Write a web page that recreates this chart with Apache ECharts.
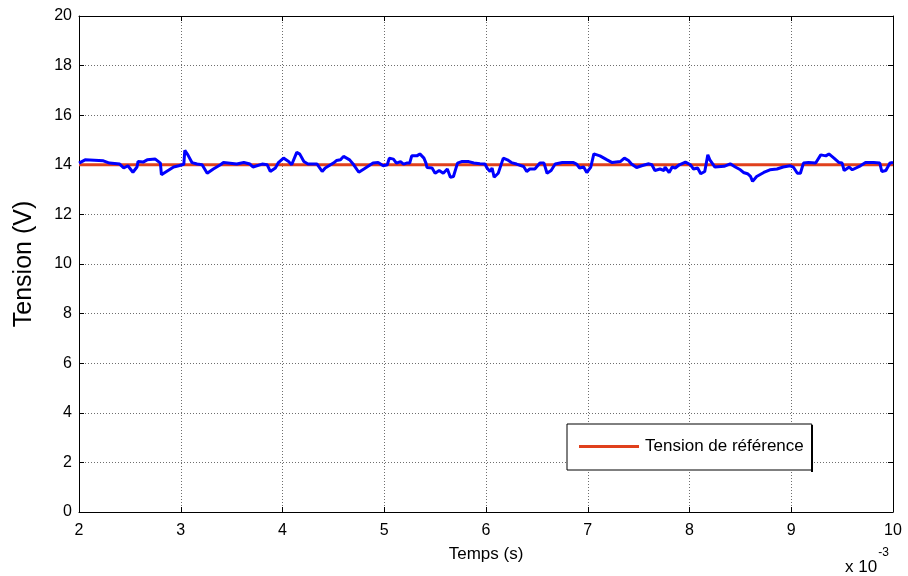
<!DOCTYPE html>
<html><head><meta charset="utf-8">
<script src="https://cdn.jsdelivr.net/npm/echarts@6/dist/echarts.min.js"></script>
<style>html,body{margin:0;padding:0;background:#fff}#c{width:908px;height:576px}</style>
</head><body><div id="c"></div>
<script>
// time in units of 1e-3 s
const tBlue = [2.0,2.06,2.24,2.30,2.40,2.44,2.48,2.53,2.57,2.58,2.63,2.67,2.75,2.80,2.81,2.86,2.93,2.98,3.03,3.04,3.07,3.11,3.16,3.21,3.26,3.32,3.39,3.42,3.55,3.62,3.68,3.71,3.80,3.85,3.88,3.93,3.96,4.01,4.06,4.09,4.14,4.17,4.21,4.25,4.34,4.39,4.42,4.50,4.53,4.57,4.60,4.66,4.70,4.75,4.80,4.89,4.94,4.99,5.03,5.05,5.09,5.12,5.16,5.19,5.22,5.25,5.27,5.32,5.35,5.39,5.41,5.42,5.47,5.50,5.54,5.58,5.62,5.65,5.68,5.72,5.76,5.83,5.88,5.94,5.99,6.01,6.04,6.06,6.08,6.12,6.17,6.21,6.25,6.30,6.37,6.40,6.43,6.48,6.53,6.57,6.60,6.64,6.68,6.75,6.86,6.89,6.92,6.96,6.99,7.03,7.06,7.12,7.19,7.24,7.32,7.36,7.40,7.43,7.48,7.53,7.60,7.63,7.66,7.71,7.75,7.76,7.80,7.83,7.86,7.90,7.96,8.01,8.04,8.08,8.11,8.15,8.18,8.20,8.25,8.34,8.40,8.45,8.50,8.53,8.57,8.60,8.62,8.66,8.73,8.79,8.86,8.92,8.99,9.02,9.06,9.09,9.12,9.17,9.24,9.29,9.34,9.37,9.42,9.47,9.50,9.52,9.57,9.60,9.68,9.73,9.81,9.87,9.89,9.93,9.97,10.0];
const vBlue = [14.07,14.20,14.16,14.07,14.03,13.87,13.96,13.70,13.91,14.13,14.11,14.20,14.23,14.07,13.60,13.73,13.91,13.96,14.02,14.58,14.40,14.09,14.03,14.00,13.66,13.83,14.00,14.09,14.03,14.09,14.03,13.91,14.03,14.00,13.73,13.87,14.09,14.27,14.13,14.00,14.50,14.43,14.13,14.03,14.03,13.73,13.87,14.07,14.17,14.20,14.34,14.20,14.00,13.70,13.83,14.07,14.09,13.96,14.00,14.27,14.23,14.07,14.13,14.03,14.07,14.07,14.36,14.36,14.44,14.27,14.07,13.89,13.87,13.66,13.77,13.66,13.83,13.50,13.53,14.07,14.13,14.13,14.07,14.04,14.03,13.87,13.73,13.87,13.50,13.66,14.27,14.20,14.09,14.03,13.93,13.73,13.83,13.83,14.07,14.07,13.66,13.77,14.03,14.09,14.09,14.03,13.87,13.91,13.69,13.91,14.44,14.36,14.20,14.09,14.13,14.27,14.17,14.03,13.89,13.96,14.04,14.00,13.77,13.83,13.77,13.91,13.69,13.91,13.87,14.00,14.11,14.00,13.83,13.87,13.64,13.73,14.40,14.20,13.91,13.94,14.04,13.91,13.80,13.69,13.64,13.53,13.33,13.53,13.69,13.80,13.83,13.91,13.96,13.91,13.66,13.66,14.07,14.09,14.07,14.40,14.36,14.44,14.27,14.09,14.07,13.77,13.91,13.80,13.96,14.09,14.09,14.07,13.73,13.77,14.07,14.09];
const tRef = [2, 10];
const vRef = [14, 14];
const xTicks = [2,3,4,5,6,7,8,9,10];
const yTicks = [0,2,4,6,8,10,12,14,16,18,20];

const chart = echarts.init(document.getElementById('c'), null, {renderer:'canvas'});
const font = 'Liberation Sans, Arial, sans-serif';
const gridLine = {show:true, lineStyle:{color:'#6e6e6e', type:[1,2], width:1}};
const axLine = {show:true, onZero:false, lineStyle:{color:'#000', width:1}};
const tick = {show:true, inside:true, length:5, lineStyle:{color:'#000'}};
chart.setOption({
  animation:false,
  backgroundColor:'#fff',
  grid:{left:79, right:15, top:16, bottom:64, containLabel:false},
  legend:{
    data:[{name:'Tension de référence', icon:'rect'}],
    left:567, top:424, itemWidth:60, itemHeight:3,
    padding:[14,8,15,12], borderColor:'#000', borderWidth:1, backgroundColor:'#fff',
    textStyle:{fontFamily:font, fontSize:17, color:'#000', padding:[0,0,0,1]}
  },
  graphic:[
    {type:'rect', shape:{x:811, y:425, width:2, height:47}, style:{fill:'#000'}, z:100},
    {type:'text', left:845, top:547, style:{
      text:'{a|x 10}{b|-3}', fontFamily:font,
      rich:{a:{fontSize:17, fill:'#000', fontFamily:font, padding:[12,0,0,0]}, b:{fontSize:12, fill:'#000', fontFamily:font, verticalAlign:'top', padding:[0,0,13,1]}}
    }}
  ],
  xAxis:[
    {type:'value', min:2, max:10, interval:1, position:'bottom',
     name:'Temps (s)', nameLocation:'middle', nameGap:34,
     nameTextStyle:{fontFamily:font, fontSize:17, color:'#000'},
     axisLine:axLine, axisTick:tick, splitLine:gridLine,
     axisLabel:{fontFamily:font, fontSize:16, color:'#000', margin:11,
       formatter:v=>xTicks.includes(v)?String(v):''}},
    {type:'value', min:2, max:10, interval:1, position:'top',
     axisLine:axLine, axisTick:tick, splitLine:{show:false}, axisLabel:{show:false}}
  ],
  yAxis:[
    {type:'value', min:0, max:20, interval:2, position:'left',
     name:'Tension (V)', nameLocation:'middle', nameGap:42, nameRotate:90,
     nameTextStyle:{fontFamily:font, fontSize:25, color:'#000'},
     axisLine:axLine, axisTick:tick, splitLine:gridLine,
     axisLabel:{fontFamily:font, fontSize:16, color:'#000', margin:7,
       formatter:v=>yTicks.includes(v)?String(v):''}},
    {type:'value', min:0, max:20, interval:2, position:'right',
     axisLine:axLine, axisTick:tick, splitLine:{show:false}, axisLabel:{show:false}}
  ],
  series:[
    {name:'Tension de référence', type:'line', data:tRef.map((t,i)=>[t,vRef[i]]),
     showSymbol:false, lineStyle:{color:'#e0401c', width:3}, itemStyle:{color:'#e0401c'}, z:2},
    {name:'Tension', type:'line', data:tBlue.map((t,i)=>[t,vBlue[i]]),
     showSymbol:false, lineStyle:{color:'#0000ff', width:3}, itemStyle:{color:'#0000ff'}, z:3}
  ]
});
</script></body></html>
